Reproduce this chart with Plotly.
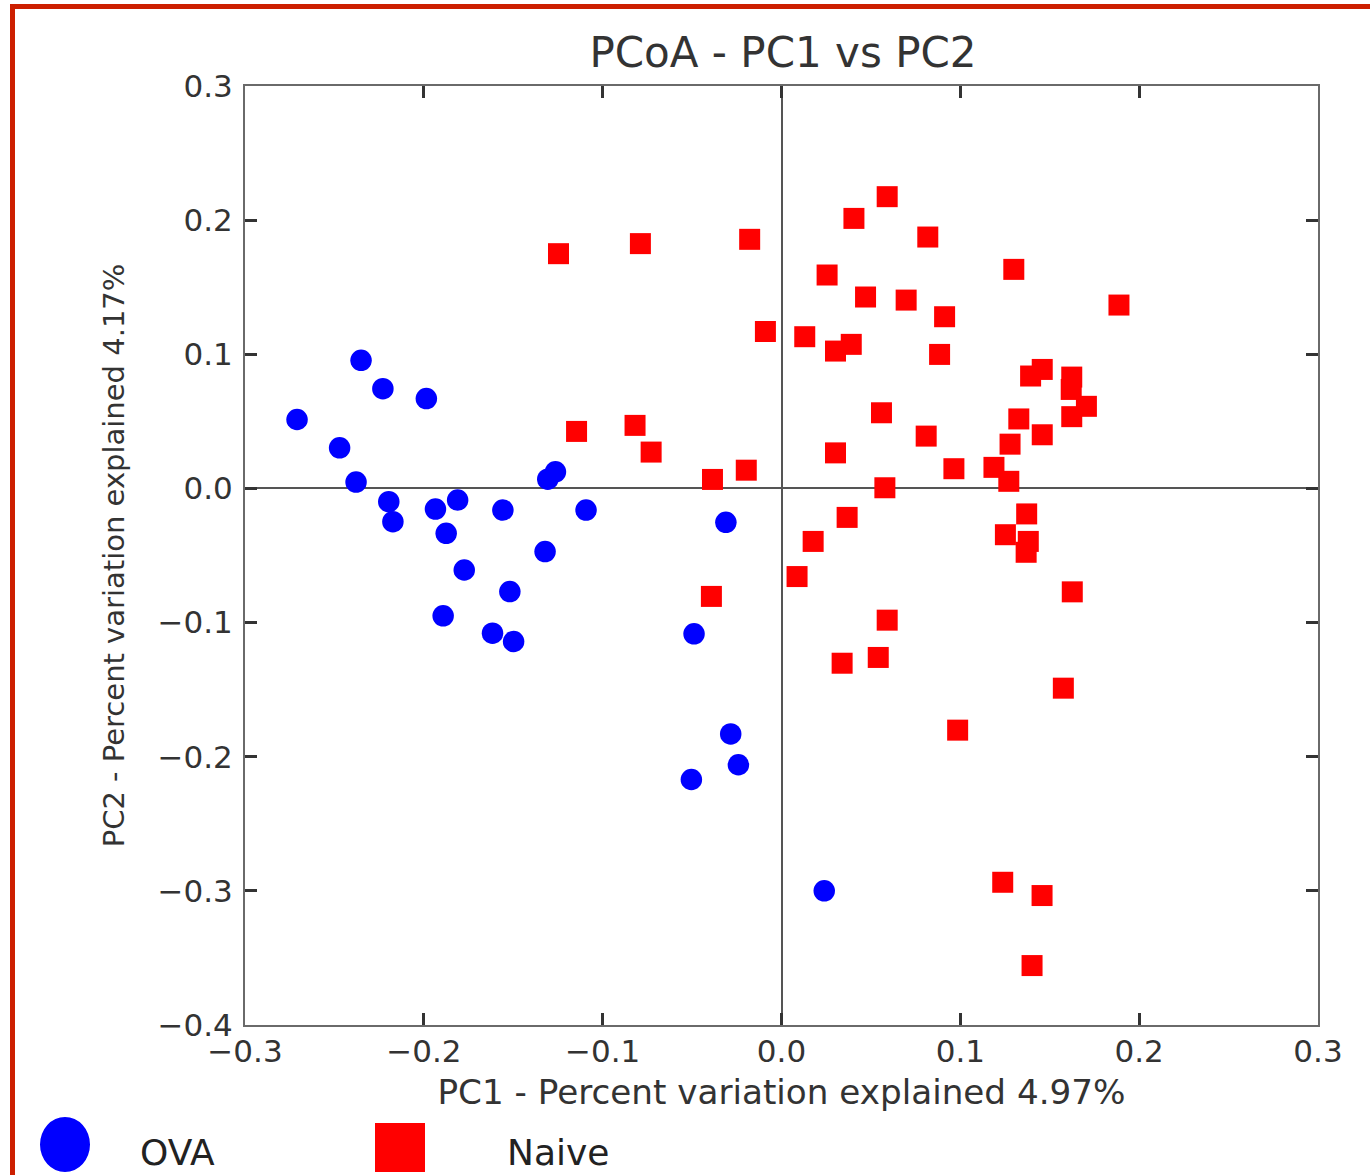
import plotly.graph_objects as go

# ---- data ----
ova_pc1 = [-0.2351, -0.2229, -0.1986, -0.2709, -0.2471, -0.2379, -0.2196, -0.2173,
           -0.1935, -0.1811, -0.1875, -0.1774, -0.1892, -0.1558, -0.1519, -0.1616,
           -0.1498, -0.1322, -0.1307, -0.1264, -0.1093, -0.0311, -0.0489, -0.0284,
           -0.0241, -0.0504, 0.0239]
ova_pc2 = [0.0955, 0.0744, 0.0670, 0.0514, 0.0303, 0.0047, -0.0099, -0.0248,
           -0.0154, -0.0087, -0.0335, -0.0608, -0.0950, -0.0161, -0.0769, -0.1079,
           -0.1141, -0.0471, 0.0069, 0.0124, -0.0161, -0.0253, -0.1084, -0.1830,
           -0.2060, -0.2170, -0.3000]

naive_pc1 = [-0.1247, -0.0789, -0.0178, -0.0090, -0.1146, -0.0819, -0.0729, -0.0386,
             -0.0197, -0.0392, 0.0591, 0.0405, 0.0818, 0.0255, 0.1299, 0.0470,
             0.0697, 0.1887, 0.0912, 0.0130, 0.0302, 0.0390, 0.0884, 0.1393,
             0.1458, 0.1623, 0.1620, 0.1705, 0.1623, 0.1327, 0.0559, 0.0809,
             0.1458, 0.1278, 0.0302, 0.0964, 0.1188, 0.1271, 0.0578, 0.0367,
             0.0177, 0.0087, 0.1371, 0.1252, 0.1380, 0.1368, 0.1626, 0.0591,
             0.0541, 0.0339, 0.1576, 0.0985, 0.1237, 0.1457, 0.1401]
naive_pc2 = [0.1750, 0.1825, 0.1857, 0.1170, 0.0425, 0.0470, 0.0271, 0.0067,
             0.0136, -0.0805, 0.2175, 0.2013, 0.1874, 0.1591, 0.1633, 0.1427,
             0.1404, 0.1367, 0.1280, 0.1131, 0.1024, 0.1074, 0.0999, 0.0838,
             0.0887, 0.0830, 0.0738, 0.0612, 0.0535, 0.0518, 0.0564, 0.0390,
             0.0400, 0.0330, 0.0265, 0.0147, 0.0157, 0.0053, 0.0005, -0.0216,
             -0.0395, -0.0657, -0.0190, -0.0345, -0.0395, -0.0476, -0.0771, -0.0982,
             -0.1260, -0.1303, -0.1489, -0.1802, -0.2936, -0.3035, -0.3557]

x_ticks = [-0.3, -0.2, -0.1, 0.0, 0.1, 0.2, 0.3]
x_tick_text = ["\u22120.3", "\u22120.2", "\u22120.1", "0.0", "0.1", "0.2", "0.3"]
y_ticks = [-0.4, -0.3, -0.2, -0.1, 0.0, 0.1, 0.2, 0.3]
y_tick_text = ["\u22120.4", "\u22120.3", "\u22120.2", "\u22120.1", "0.0", "0.1", "0.2", "0.3"]

group_names = ["OVA", "Naive"]

# ---- layout geometry ----
W, H = 1370, 1175
L, R, T, B = 245, 1318, 86, 1025  # plot area in pixels
pw, ph = R - L, B - T


def px(x):
    return (x - L) / pw


def py(y):
    return (B - y) / ph


FONT = "DejaVu Sans"
TXT = "#333333"

fig = go.Figure()
fig.add_trace(go.Scatter(x=ova_pc1, y=ova_pc2, mode="markers", name=group_names[0],
                         marker=dict(symbol="circle", size=21.5, color="#0000ff",
                                     line=dict(width=0))))
fig.add_trace(go.Scatter(x=naive_pc1, y=naive_pc2, mode="markers", name=group_names[1],
                         marker=dict(symbol="square", size=21, color="#ff0000",
                                     line=dict(width=0))))

axis_common = dict(showline=True, mirror="ticks", linecolor="#6a6a6a", linewidth=2,
                   ticks="inside", ticklen=12, tickwidth=2.5, tickcolor="#333333",
                   showgrid=False, zeroline=True, zerolinecolor="#555555",
                   zerolinewidth=2, tickfont=dict(family=FONT, size=31, color=TXT),
                   automargin=False)

fig.update_layout(
    width=W, height=H,
    margin=dict(l=L, r=W - R, t=T, b=H - B),
    paper_bgcolor="white", plot_bgcolor="white",
    showlegend=False,
    font=dict(family=FONT, color=TXT),
    title=dict(text="PCoA - PC1 vs PC2", x=783 / W, xanchor="center",
               y=1 - 52 / H, yanchor="middle",
               font=dict(family=FONT, size=42, color=TXT)),
    xaxis=dict(range=[-0.3, 0.3], tickvals=x_ticks, ticktext=x_tick_text,
               ticklabelstandoff=-2,
               title=dict(text="PC1 - Percent variation explained 4.97%",
                          font=dict(family=FONT, size=34.2, color=TXT), standoff=12),
               **axis_common),
    yaxis=dict(range=[-0.4, 0.3], tickvals=y_ticks, ticktext=y_tick_text,
               ticklabelstandoff=4,
               title=dict(text="PC2 - Percent variation explained 4.17%",
                          font=dict(family=FONT, size=29, color=TXT), standoff=24),
               **axis_common),
)

# red frame (top and left edges of the picture)
red = "#cc1f00"
fig.add_shape(type="line", xref="paper", yref="paper",
              x0=px(10), x1=px(1372), y0=py(6.5), y1=py(6.5),
              line=dict(color=red, width=5))
fig.add_shape(type="line", xref="paper", yref="paper",
              x0=px(12.5), x1=px(12.5), y0=py(4), y1=py(1177),
              line=dict(color=red, width=5))

# legend drawn below the chart
fig.add_shape(type="circle", xref="paper", yref="paper",
              x0=px(40), x1=px(90), y0=py(1117), y1=py(1172),
              fillcolor="#0000ff", line=dict(width=0))
fig.add_shape(type="rect", xref="paper", yref="paper",
              x0=px(375), x1=px(425), y0=py(1123), y1=py(1172),
              fillcolor="#ff0000", line=dict(width=0))
fig.add_annotation(text=group_names[0], xref="paper", yref="paper",
                   x=px(138), y=py(1152), xanchor="left", yanchor="middle",
                   showarrow=False, font=dict(family=FONT, size=36, color="#222222"))
fig.add_annotation(text=group_names[1], xref="paper", yref="paper",
                   x=px(505), y=py(1152), xanchor="left", yanchor="middle",
                   showarrow=False, font=dict(family=FONT, size=36, color="#222222"))

page_js = ("document.body.style.margin='0';"
           "document.body.style.overflow='hidden';"
           "document.documentElement.style.overflow='hidden';")

fig.write_html("out.html", post_script=page_js, config={"displayModeBar": False})
